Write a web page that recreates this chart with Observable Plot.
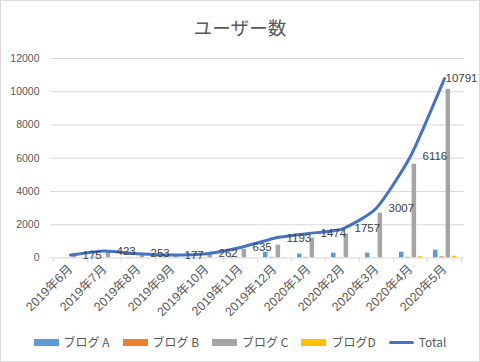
<!DOCTYPE html>
<html>
<head>
<meta charset="utf-8">
<script src="https://cdn.jsdelivr.net/npm/d3@7"></script>
<script src="https://cdn.jsdelivr.net/npm/@observablehq/plot@0.6"></script>
<style>
  html, body { margin: 0; padding: 0; background: #fff; }
  #wrap { position: relative; width: 480px; height: 362px; overflow: hidden;
          font-family: "Liberation Sans", "Noto Sans CJK JP", sans-serif; color: #595959; }
  #frame { position: absolute; left: 0; top: 0; width: 478px; height: 360px; border: 1px solid #d9d9d9; pointer-events: none; }
  #title { position: absolute; left: 0; top: 17px; width: 480px; text-align: center;
           font-size: 18.67px; line-height: 20px; font-family: "Noto Sans CJK JP", sans-serif; color: #595959; }
  #chart { position: absolute; left: 0; top: 46px; }
  #legend { position: absolute; left: 0; top: 335px; width: 480px; display: flex; justify-content: center;
            gap: 13px; font-size: 12px; line-height: 14px; }
  .item { display: flex; align-items: center; gap: 5px; white-space: nowrap; }
  .sw { width: 25px; height: 7px; display: inline-block; }
  .ln { width: 25px; height: 3px; display: inline-block; border-radius: 2px; }
  .lbl { font-family: "Noto Sans CJK JP", "Liberation Sans", sans-serif; }
</style>
</head>
<body>
<div id="wrap">
  <div id="title"></div>
  <div id="chart"></div>
  <div id="legend"></div>
  <div id="frame"></div>
</div>
<script>
const titleText = "ユーザー数";
const months = ["2019年6月","2019年7月","2019年8月","2019年9月","2019年10月","2019年11月","2019年12月","2020年1月","2020年2月","2020年3月","2020年4月","2020年5月"];
const blogA = [15, 50, 30, 25, 30, 80, 350, 230, 290, 290, 350, 470];
const blogB = [15, 30, 20, 15, 25, 30, 45, 40, 30, 20, 45, 70];
const blogC = [135, 330, 195, 130, 197, 515, 770, 1195, 1430, 2695, 5641, 10148];
const blogD = [10, 13, 8, 7, 10, 10, 28, 9, 7, 2, 80, 103];
const total = [175, 423, 253, 177, 262, 635, 1193, 1474, 1757, 3007, 6116, 10791];
const seriesNames = ["ブログ A", "ブログ B", "ブログ C", "ブログD"];
const totalName = "Total";
const yTicks = [0, 2000, 4000, 6000, 8000, 10000, 12000];
const colors = ["#5B9BD5", "#ED7D31", "#A5A5A5", "#FFC000"];
const lineColor = "#4472C4";

const rows = months.map((m, i) => ({month: m, A: blogA[i], B: blogB[i], C: blogC[i], D: blogD[i], total: total[i]}));

document.getElementById("title").textContent = titleText;

const barW = 5;
const keys = ["A", "B", "C", "D"];
const offsets = [6, 12.3, 18.6, 24.9];
const bandW = (480 - 50 - 16) / months.length;

const bars = keys.map((k, j) => Plot.barY(rows, {
  x: "month", y: k, fill: colors[j],
  insetLeft: offsets[j], insetRight: bandW - offsets[j] - barW
}));

const chart = Plot.plot({
  width: 480, height: 290,
  marginLeft: 50, marginRight: 16, marginTop: 12, marginBottom: 78.5,
  style: {fontFamily: "'Liberation Sans', 'Noto Sans CJK JP', sans-serif", fontSize: "10px", color: "#595959", background: "transparent"},
  x: {domain: months, padding: 0, label: null},
  y: {domain: [0, 12000], label: null},
  marks: [
    Plot.ruleY(yTicks.slice(1), {stroke: "#d9d9d9", strokeWidth: 1}),
    ...bars,
    Plot.ruleY([0], {stroke: "#d9d9d9", strokeWidth: 1}),
    Plot.axisY({ticks: yTicks, tickFormat: "d", tickSize: 0, tickPadding: 11, fontSize: 10.5, fill: "#595959"}),
    Plot.axisX({ticks: months, tickSize: 5, tickFormat: () => "", dx: -bandW / 2, stroke: "#d9d9d9"}),
    Plot.axisX({ticks: months.slice(-1), tickSize: 5, tickFormat: () => "", dx: bandW / 2, stroke: "#d9d9d9"}),
    Plot.axisX({ticks: months, tickSize: 0, tickPadding: 9, tickRotate: -45, fontSize: 12.5, fill: "#595959"}),
    Plot.line(rows, {x: "month", y: "total", stroke: lineColor, strokeWidth: 3, curve: "cardinal", tension: 0.4, strokeLinecap: "round"}),
    Plot.text(rows.slice(0, -1), {x: "month", y: "total", text: d => String(d.total), dx: 12, textAnchor: "start", fontSize: 11.5, fill: "#404040"}),
    Plot.text(rows.slice(-1), {x: "month", y: "total", text: d => String(d.total), dx: 1, textAnchor: "start", fontSize: 11.5, fill: "#404040"})
  ]
});
document.getElementById("chart").appendChild(chart);

const legend = document.getElementById("legend");
seriesNames.forEach((n, j) => {
  const it = document.createElement("div");
  it.className = "item";
  it.innerHTML = `<span class="sw" style="background:${colors[j]}"></span><span class="lbl"></span>`;
  it.querySelector(".lbl").textContent = n;
  legend.appendChild(it);
});
const it = document.createElement("div");
it.className = "item";
it.innerHTML = `<span class="ln" style="background:${lineColor}"></span><span class="lbl"></span>`;
it.querySelector(".lbl").textContent = totalName;
legend.appendChild(it);
</script>
</body>
</html>
